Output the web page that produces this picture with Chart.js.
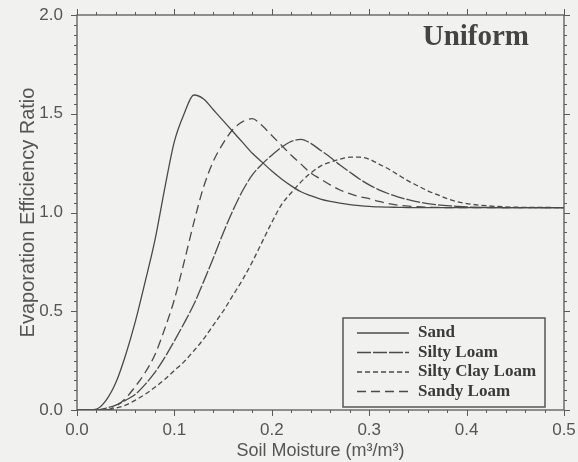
<!DOCTYPE html>
<html>
<head>
<meta charset="utf-8">
<title>Uniform</title>
<script src="https://cdn.jsdelivr.net/npm/chart.js@4/dist/chart.umd.min.js"></script>
<style>
  html, body { margin: 0; padding: 0; background: #f1f1ef; }
  #wrap { width: 578px; height: 462px; }
</style>
</head>
<body>
<div id="wrap"><canvas id="effChart" width="578" height="462"></canvas></div>
<script>
// ── Data ───────────────────────────────────────────────────────
const moisture = [
  0.00, 0.01, 0.02, 0.03, 0.04, 0.05, 0.06, 0.07, 0.08, 0.09,
  0.10, 0.11, 0.12, 0.13, 0.14, 0.15, 0.16, 0.17, 0.18, 0.19,
  0.20, 0.21, 0.22, 0.23, 0.24, 0.25, 0.26, 0.27, 0.28, 0.29,
  0.30, 0.31, 0.32, 0.33, 0.34, 0.35, 0.36, 0.37, 0.38, 0.39,
  0.40, 0.45, 0.50
];

const sand = [
  0.00, 0.00, 0.005, 0.05, 0.14, 0.28, 0.45, 0.65, 0.86, 1.12,
  1.36, 1.50, 1.595, 1.575, 1.52, 1.465, 1.41, 1.355, 1.30, 1.255,
  1.21, 1.17, 1.135, 1.105, 1.085, 1.068, 1.056, 1.047, 1.040, 1.035,
  1.031, 1.028, 1.027, 1.026, 1.025, 1.025, 1.025, 1.025, 1.025, 1.025,
  1.025, 1.025, 1.025
];

const siltyLoam = [
  0.00, 0.00, 0.00, 0.01, 0.025, 0.05, 0.08, 0.13, 0.19, 0.265,
  0.35, 0.44, 0.535, 0.65, 0.77, 0.895, 1.01, 1.11, 1.19, 1.245,
  1.29, 1.33, 1.36, 1.37, 1.35, 1.315, 1.28, 1.24, 1.205, 1.17,
  1.14, 1.115, 1.095, 1.078, 1.065, 1.054, 1.045, 1.039, 1.035, 1.031,
  1.028, 1.025, 1.025
];

const siltyClayLoam = [
  0.00, 0.00, 0.00, 0.00, 0.01, 0.025, 0.05, 0.08, 0.115, 0.155,
  0.20, 0.245, 0.30, 0.36, 0.43, 0.50, 0.58, 0.66, 0.75, 0.85,
  0.95, 1.04, 1.10, 1.155, 1.20, 1.235, 1.255, 1.27, 1.28, 1.28,
  1.27, 1.245, 1.22, 1.19, 1.16, 1.135, 1.11, 1.09, 1.07, 1.055,
  1.045, 1.027, 1.025
];

const sandyLoam = [
  0.00, 0.00, 0.00, 0.00, 0.02, 0.06, 0.12, 0.19, 0.28, 0.41,
  0.56, 0.75, 0.95, 1.13, 1.26, 1.35, 1.42, 1.46, 1.475, 1.44,
  1.39, 1.34, 1.29, 1.245, 1.20, 1.17, 1.14, 1.114, 1.095, 1.08,
  1.07, 1.056, 1.045, 1.037, 1.032, 1.029, 1.027, 1.026, 1.025, 1.025,
  1.025, 1.025, 1.025
];

const seriesNames = ["Sand", "Silty Loam", "Silty Clay Loam", "Sandy Loam"];
const xTicks = [0.0, 0.1, 0.2, 0.3, 0.4, 0.5];
const yTicks = [0.0, 0.5, 1.0, 1.5, 2.0];
const panelTitle = "Uniform";

// ── Styles ──
const INK = "#4a4a4a";
const TEXT = "#555555";
const SANS = "'Liberation Sans', Arial, sans-serif";
const SERIF = "'Liberation Serif', 'Times New Roman', serif";

function pts(values) {
  return moisture.map((m, i) => ({ x: m, y: values[i] }));
}

// ── Frame, ticks, title, legend ──
const decorPlugin = {
  id: "decor",
  beforeDraw(chart) {
    const { ctx, width, height } = chart;
    ctx.save();
    ctx.fillStyle = "#f1f1ef";
    ctx.fillRect(0, 0, width, height);
    ctx.restore();
  },
  afterDraw(chart) {
    const { ctx, chartArea: a, scales } = chart;
    const xs = scales.x, ys = scales.y;
    ctx.save();
    ctx.strokeStyle = "#5a5a5a";
    ctx.lineWidth = 1.3;
    ctx.strokeRect(a.left, a.top, a.right - a.left, a.bottom - a.top);

    // minor + major ticks, outward on all four sides
    ctx.lineWidth = 1;
    ctx.beginPath();
    for (let i = 0; i <= 25; i++) {
      const px = Math.round(xs.getPixelForValue(i * 0.02)) + 0.5;
      const len = i % 5 === 0 ? 6 : 3;
      ctx.moveTo(px, a.bottom); ctx.lineTo(px, a.bottom + len);
      ctx.moveTo(px, a.top); ctx.lineTo(px, a.top - len);
    }
    for (let i = 0; i <= 40; i++) {
      const py = Math.round(ys.getPixelForValue(i * 0.05)) + 0.5;
      const len = i % 10 === 0 ? 6 : 3;
      ctx.moveTo(a.left, py); ctx.lineTo(a.left - len, py);
      ctx.moveTo(a.right, py); ctx.lineTo(a.right + len, py);
    }
    ctx.stroke();

    // panel title
    ctx.fillStyle = "#444";
    ctx.font = "bold 29px " + SERIF;
    ctx.textAlign = "right";
    ctx.textBaseline = "middle";
    ctx.fillText(panelTitle, a.right - 35, 38);

    // legend box
    const bx = 343, by = 318, bw = 202, bh = 89;
    ctx.strokeStyle = "#555";
    ctx.lineWidth = 1.5;
    ctx.strokeRect(bx, by, bw, bh);
    ctx.font = "bold 17px " + SERIF;
    ctx.textAlign = "left";
    ctx.fillStyle = "#3a3a3a";
    chart.data.datasets.forEach((ds, i) => {
      const ry = by + 15 + i * 19.5;
      ctx.save();
      ctx.strokeStyle = ds.borderColor;
      ctx.lineWidth = ds.borderWidth;
      ctx.setLineDash(ds.borderDash || []);
      ctx.beginPath();
      ctx.moveTo(bx + 14, ry);
      ctx.lineTo(bx + 66, ry);
      ctx.stroke();
      ctx.restore();
      ctx.fillText(ds.label, bx + 75, ry);
    });
    ctx.restore();
  }
};

const ctx = document.getElementById("effChart").getContext("2d");

new Chart(ctx, {
  type: "line",
  data: {
    datasets: [
      { label: seriesNames[0], data: pts(sand), borderDash: [] },
      { label: seriesNames[1], data: pts(siltyLoam), borderDash: [14, 2] },
      { label: seriesNames[2], data: pts(siltyClayLoam), borderDash: [5, 3] },
      { label: seriesNames[3], data: pts(sandyLoam), borderDash: [9, 5] }
    ].map(ds => Object.assign(ds, {
      borderColor: INK,
      borderWidth: 1.3,
      pointRadius: 0,
      fill: false,
      cubicInterpolationMode: "monotone"
    }))
  },
  options: {
    responsive: false,
    animation: false,
    layout: { padding: { left: 0, right: 14, top: 15, bottom: 0 } },
    plugins: { legend: { display: false }, tooltip: { enabled: false } },
    scales: {
      x: {
        type: "linear",
        min: 0, max: 0.5,
        grid: { display: false },
        border: { display: false },
        afterBuildTicks: s => { s.ticks = xTicks.map(v => ({ value: v })); },
        afterFit: s => { s.height = 52; s.paddingLeft = 0; s.paddingRight = 0; },
        ticks: {
          padding: 2,
          color: TEXT,
          font: { family: SANS, size: 17 },
          maxRotation: 0,
          callback: v => v.toFixed(1)
        },
        title: {
          display: true,
          text: "Soil Moisture (m³/m³)",
          color: TEXT,
          font: { family: SANS, size: 18 },
          padding: { top: 0, bottom: 0 }
        }
      },
      y: {
        min: 0, max: 2.0,
        grid: { display: false },
        border: { display: false },
        afterBuildTicks: s => { s.ticks = yTicks.map(v => ({ value: v })); },
        afterFit: s => { s.width = 77; s.paddingTop = 0; s.paddingBottom = 0; },
        ticks: {
          padding: 6,
          color: TEXT,
          font: { family: SANS, size: 17 },
          callback: v => v.toFixed(1)
        },
        title: {
          display: true,
          text: "Evaporation Efficiency Ratio",
          color: TEXT,
          font: { family: SANS, size: 20 },
          padding: { top: 16, bottom: 0 }
        }
      }
    }
  },
  plugins: [decorPlugin]
});
</script>
</body>
</html>
